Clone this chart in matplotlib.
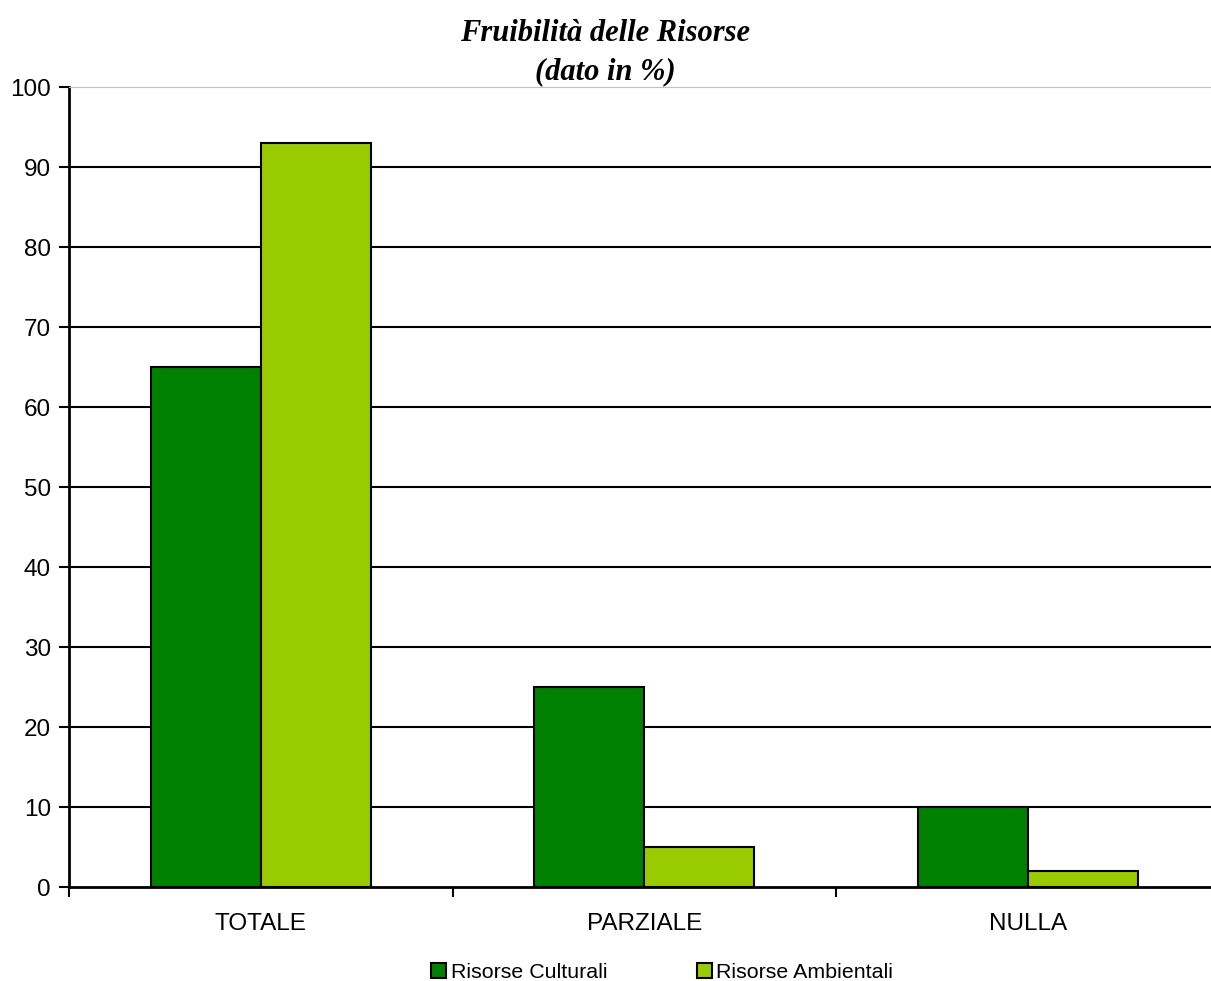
import numpy as np
import matplotlib.pyplot as plt
from matplotlib.patches import Patch

categories = ['TOTALE', 'PARZIALE', 'NULLA']
culturali = [65, 25, 10]
ambientali = [93, 5, 2]

plt.rcParams['font.family'] = ['Liberation Sans', 'DejaVu Sans']

fig = plt.figure(figsize=(12.11, 9.81), dpi=100)
ax = fig.add_axes([0.057, 0.0958, 0.950, 0.8155])

x = np.arange(len(categories))
w = 0.287
ax.bar(x - w / 2, culturali, w, color='#008000', edgecolor='black', linewidth=1.5,
       label='Risorse Culturali', zorder=3)
ax.bar(x + w / 2, ambientali, w, color='#99CC00', edgecolor='black', linewidth=1.5,
       label='Risorse Ambientali', zorder=3)

ax.set_xlim(-0.5, 2.5)
ax.set_ylim(0, 100)
ax.set_yticks(range(0, 101, 10))
ax.tick_params(axis='y', labelsize=17.5, length=7, width=1.5, direction='out', pad=6)
for y in range(10, 91, 10):
    ax.axhline(y, color='black', linewidth=1.5, zorder=1)

# category ticks between groups, labels at centres
ax.set_xticks([-0.5, 0.5, 1.5, 2.5])
ax.set_xticklabels([])
ax.set_xticks(x, minor=True)
ax.set_xticklabels(categories, minor=True, fontsize=17.5)
ax.tick_params(axis='x', which='major', length=7, width=1.5, direction='out')
ax.tick_params(axis='x', which='minor', length=0, pad=19)

ax.spines['top'].set_color('#c0c0c0')
ax.spines['right'].set_visible(False)
ax.spines['left'].set_linewidth(2)
ax.spines['bottom'].set_linewidth(2)

fig.text(0.5, 0.9465, 'Fruibilità delle Risorse\n(dato in %)', ha='center', va='center',
         family='Liberation Serif', fontweight='bold', fontstyle='italic', fontsize=22,
         linespacing=1.4)

handles = [Patch(facecolor='#008000', edgecolor='black', linewidth=1.5),
           Patch(facecolor='#99CC00', edgecolor='black', linewidth=1.5)]
fig.legend(handles, ['Risorse Culturali', 'Risorse Ambientali'], loc='center',
           bbox_to_anchor=(0.547, 0.009), ncol=2, frameon=False, fontsize=15.4,
           handlelength=0.7, handleheight=0.7, handletextpad=0.2, columnspacing=4.2)

fig.savefig('out.png', dpi=100)
